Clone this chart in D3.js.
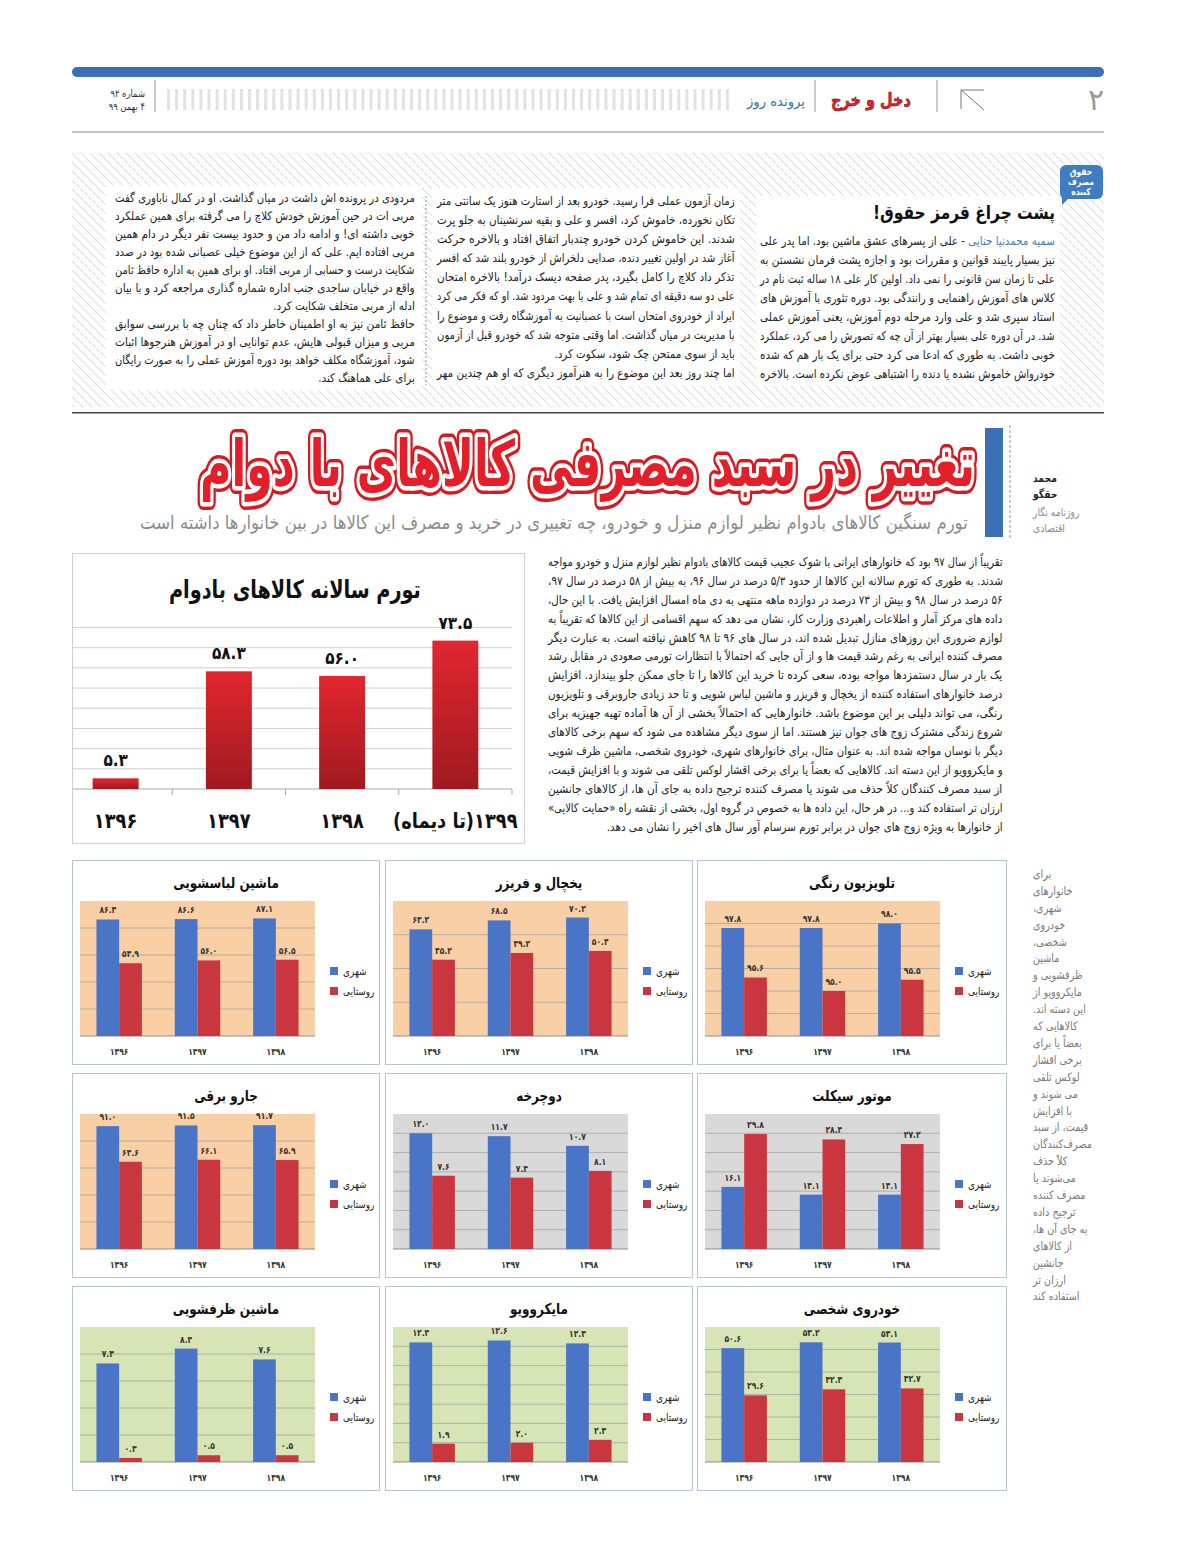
<!DOCTYPE html>
<html>
<head>
<meta charset="utf-8">
<script src="https://cdn.jsdelivr.net/npm/d3@7"></script>
<style>
  body { margin: 0; background: #fff; }
  svg { display: block; }
  text { font-family: "DejaVu Sans", sans-serif; }
</style>
</head>
<body>
<script>
// ---- data ----
var mainYears = ["۱۳۹۶", "۱۳۹۷", "۱۳۹۸", "۱۳۹۹(تا دیماه)"];
var mainValues = [5.3, 58.3, 56.0, 73.5];
var mainTicks = [0, 80, 10];

var panelYears = ["۱۳۹۶", "۱۳۹۷", "۱۳۹۸"];
var seriesNames = ["شهری", "روستایی"];

// order: right, middle, left in each row
var panelTitles = ["تلویزیون رنگی", "یخچال و فریزر", "ماشین لباسشویی",
                   "موتور سیکلت", "دوچرخه", "جارو برقی",
                   "خودروی شخصی", "مایکروویو", "ماشین ظرفشویی"];
var tvUrban = [97.8, 97.8, 98.0],       tvRural = [95.6, 95.0, 95.5];
var fridgeUrban = [63.2, 68.5, 70.2],   fridgeRural = [45.2, 49.2, 50.4];
var washUrban = [86.3, 86.6, 87.1],     washRural = [53.9, 56.0, 56.5];
var motoUrban = [16.1, 14.1, 14.1],     motoRural = [29.8, 28.4, 27.2];
var bikeUrban = [12.0, 11.7, 10.7],     bikeRural = [7.6, 7.4, 8.1];
var vacuumUrban = [91.0, 91.5, 91.7],   vacuumRural = [64.6, 66.1, 65.9];
var carUrban = [50.6, 53.2, 53.1],      carRural = [29.6, 32.3, 32.7];
var microUrban = [12.4, 12.6, 12.3],    microRural = [1.9, 2.0, 2.3];
var dishUrban = [7.3, 8.4, 7.6],        dishRural = [0.3, 0.5, 0.5];
// axis min, max, step
var panelAxes = [[93, 99, 1], [0, 80, 20], [0, 100, 20],
                 [0, 35, 5], [0, 14, 2], [0, 100, 20],
                 [0, 60, 10], [0, 14, 2], [0, 10, 2]];

var panels = [
  [tvUrban, tvRural], [fridgeUrban, fridgeRural], [washUrban, washRural],
  [motoUrban, motoRural], [bikeUrban, bikeRural], [vacuumUrban, vacuumRural],
  [carUrban, carRural], [microUrban, microRural], [dishUrban, dishRural]
];
var PEACH = "#f9cfa6", GREY = "#d9d9d9", GREEN = "#d7e4b5";
var panelBg = [PEACH, PEACH, PEACH, GREY, GREY, PEACH, GREEN, GREEN, GREEN];
var BLUE = "#4a74c6", RED = "#c9363f";

// ---- texts ----
var headline = "تغییر در سبد مصرفی کالاهای با دوام";
var subtitle = "تورم سنگین کالاهای بادوام نظیر لوازم منزل و خودرو، چه تغییری در خرید و مصرف این کالاها در بین خانوارها داشته است";
var mainTitle = "تورم سالانه کالاهای بادوام";

var rightCol = [
  [["سمیه محمدنیا حنایی", "#4a7bb7"], [" - علی از پسرهای عشق ماشین بود. اما پدر علی", "#222"]],
  "نیز بسیار پایبند قوانین و مقررات بود و اجازه پشت فرمان نشستن به",
  "علی تا زمان سن قانونی را نمی داد. اولین کار علی ۱۸ ساله ثبت نام در",
  "کلاس های آموزش راهنمایی و رانندگی بود. دوره تئوری با آموزش های",
  "استاد سپری شد و علی وارد مرحله دوم آموزش، یعنی آموزش عملی",
  "شد. در آن دوره علی بسیار بهتر از آن چه که تصورش را می کرد، عملکرد",
  "خوبی داشت. به طوری که ادعا می کرد حتی برای یک بار هم که شده",
  "خودرواش خاموش نشده یا دنده را اشتباهی عوض نکرده است. بالاخره"
];
var midCol = [
  "زمان آزمون عملی فرا رسید. خودرو بعد از استارت هنوز یک سانتی متر",
  "تکان نخورده، خاموش کرد، افسر و علی و بقیه سرنشینان به جلو پرت",
  "شدند. این خاموش کردن خودرو چندبار اتفاق افتاد و بالاخره حرکت",
  "آغاز شد در اولین تغییر دنده، صدایی دلخراش از خودرو بلند شد که افسر",
  "تذکر داد کلاچ را کامل بگیرد، پدر صفحه دیسک درآمد! بالاخره امتحان",
  "علی دو سه دقیقه ای تمام شد و علی با بهت مردود شد. او که فکر می کرد",
  "ایراد از خودروی امتحان است با عصبانیت به آموزشگاه رفت و موضوع را",
  "با مدیریت در میان گذاشت. اما وقتی متوجه شد که خودرو قبل از آزمون",
  "باید از سوی ممتحن چک شود، سکوت کرد.",
  "اما چند روز بعد این موضوع را به هنرآموز دیگری که او هم چندین مهر"
];
var leftCol = [
  "مردودی در پرونده اش داشت در میان گذاشت. او در کمال ناباوری گفت",
  "مربی ات در حین آموزش خودش کلاچ را می گرفته برای همین عملکرد",
  "خوبی داشته ای! و ادامه داد من و حدود بیست نفر دیگر در دام همین",
  "مربی افتاده ایم. علی که از این موضوع خیلی عصبانی شده بود در صدد",
  "شکایت درست و حسابی از مربی افتاد. او برای همین به اداره حافظ ثامن",
  "واقع در خیابان ساجدی جنب اداره شماره گذاری مراجعه کرد و با بیان",
  "ادله از مربی متخلف شکایت کرد.",
  "حافظ ثامن نیز به او اطمینان خاطر داد که چنان چه با بررسی سوابق",
  "مربی و میزان قبولی هایش، عدم توانایی او در آموزش هنرجوها اثبات",
  "شود، آموزشگاه مکلف خواهد بود دوره آموزش عملی را به صورت رایگان",
  "برای علی هماهنگ کند."
];
var mainText = [
  "تقریباً از سال ۹۷ بود که خانوارهای ایرانی با شوک عجیب قیمت کالاهای بادوام نظیر لوازم منزل و خودرو مواجه",
  "شدند. به طوری که تورم سالانه این کالاها از حدود ۵/۳ درصد در سال ۹۶، به بیش از ۵۸ درصد در سال ۹۷،",
  "۵۶ درصد در سال ۹۸ و بیش از ۷۳ درصد در دوازده ماهه منتهی به دی ماه امسال افزایش یافت. با این حال،",
  "داده های مرکز آمار و اطلاعات راهبردی وزارت کار، نشان می دهد که سهم اقسامی از این کالاها که تقریباً به",
  "لوازم ضروری این روزهای منازل تبدیل شده اند، در سال های ۹۶ تا ۹۸ کاهش نیافته است. به عبارت دیگر",
  "مصرف کننده ایرانی به رغم رشد قیمت ها و از آن جایی که احتمالاً با انتظارات تورمی صعودی در مقابل رشد",
  "یک بار در سال دستمزدها مواجه بوده، سعی کرده تا خرید این کالاها را تا جای ممکن جلو بیندازد. افزایش",
  "درصد خانوارهای استفاده کننده از یخچال و فریزر و ماشین لباس شویی و تا حد زیادی جاروبرقی و تلویزیون",
  "رنگی، می تواند دلیلی بر این موضوع باشد. خانوارهایی که احتمالاً بخشی از آن ها آماده تهیه جهیزیه برای",
  "شروع زندگی مشترک زوج های جوان نیز هستند. اما از سوی دیگر مشاهده می شود که سهم برخی کالاهای",
  "دیگر با نوسان مواجه شده اند. به عنوان مثال، برای خانوارهای شهری، خودروی شخصی، ماشین ظرف شویی",
  "و مایکروویو از این دسته اند. کالاهایی که بعضاً یا برای برخی اقشار لوکس تلقی می شوند و با افزایش قیمت،",
  "از سبد مصرف کنندگان کلاً حذف می شوند یا مصرف کننده ترجیح داده به جای آن ها، از کالاهای جانشین",
  "ارزان تر استفاده کند و... در هر حال، این داده ها به خصوص در گروه اول، بخشی از نقشه راه «حمایت کالایی»",
  "از خانوارها به ویژه زوج های جوان در برابر تورم سرسام آور سال های اخیر را نشان می دهد."
];
var sideText = ["برای", "خانوارهای", "شهری،", "خودروی", "شخصی،", "ماشین", "ظرفشویی و",
  "مایکروویو از", "این دسته اند.", "کالاهایی که", "بعضاً یا برای", "برخی اقشار", "لوکس تلقی",
  "می شوند و", "با افزایش", "قیمت، از سبد", "مصرف‌کنندگان", "کلاً حذف", "می‌شوند یا",
  "مصرف کننده", "ترجیح داده", "به جای آن ها،", "از کالاهای", "جانشین", "ارزان تر", "استفاده کند"];

// ---- helpers ----
var SQ = 0.84;
function rtl(s) { return "\u202B" + s + "\u202C"; }
function fa(s) { return String(s).replace(/[0-9]/g, function(d) { return "۰۱۲۳۴۵۶۷۸۹"[+d]; }); }

// place a text, squeezed horizontally to a width, anchored start/middle/end
function put(g, s, x, y, size, o) {
  o = o || {};
  var t = g.append("text")
    .attr("x", 0)
    .attr("y", y)
    .attr("font-size", size)
    .attr("font-weight", o.bold ? "bold" : "normal")
    .attr("fill", o.fill || "#222");
  if (Array.isArray(s)) {
    s.forEach(function(p, i) {
      t.append("tspan").attr("fill", p[1])
        .text((i === 0 ? "\u202B" : "") + p[0] + (i === s.length - 1 ? "\u202C" : ""));
    });
  } else {
    t.text(rtl(s));
  }
  var L = t.node().getComputedTextLength();
  var w = o.width || L * (o.k || SQ);
  var a = o.anchor || "end";
  var x0 = a === "end" ? x - w : a === "middle" ? x - w / 2 : x;
  t.attr("transform", "translate(" + x0 + ",0) scale(" + (w / L) + ",1)");
  t.property("nat", L);
  return t;
}

// justified paragraph lines, "ends" are the short last lines
function para(lines, xR, width, y0, lh, size, color, ends) {
  var g = svg.append("g");
  var rs = [];
  lines.forEach(function(s, i) {
    if (ends.indexOf(i) < 0) {
      var t = put(g, s, xR, y0 + i * lh, size, {width: width, fill: color});
      rs.push(width / t.property("nat"));
    }
  });
  var k = Math.max(0.7, Math.min(1.05, d3.mean(rs)));
  ends.forEach(function(i) {
    put(g, lines[i], xR, y0 + i * lh, size, {k: k, fill: color});
  });
}

var svg = d3.select("body").append("svg")
  .attr("width", 1200)
  .attr("height", 1560);

var defs = svg.append("defs");
var hatch = defs.append("pattern").attr("id", "hatch")
  .attr("patternUnits", "userSpaceOnUse").attr("width", 9).attr("height", 9);
hatch.append("path").attr("d", "M0,0L9,9M-1,8L1,10M8,-1L10,1")
  .attr("stroke", "#d6d6d6").attr("stroke-width", 1);
var grad = defs.append("linearGradient").attr("id", "barGrad")
  .attr("x1", 0).attr("y1", 0).attr("x2", 0).attr("y2", 1);
grad.append("stop").attr("offset", "0%").attr("stop-color", "#e2262f");
grad.append("stop").attr("offset", "100%").attr("stop-color", "#9f1a20");

// ---- page header ----
svg.append("rect").attr("x", 72).attr("y", 67).attr("width", 1032).attr("height", 10)
  .attr("rx", 5).attr("fill", "#3b6fb6");
put(svg, "۲", 1096, 110, 30, {fill: "#9a9a9a", anchor: "middle", k: 1});
svg.append("path").attr("d", "M961,109V90H984M961,90L984,110")
  .attr("fill", "none").attr("stroke", "#777").attr("stroke-width", 1);
[937, 815, 155].forEach(function(x) {
  svg.append("line").attr("x1", x).attr("x2", x).attr("y1", 80).attr("y2", 112)
    .attr("stroke", "#999");
});
put(svg, "دخل و خرج", 871, 106, 18, {bold: true, fill: "#e0242b", anchor: "middle", width: 80})
  .attr("stroke", "#8a0d12").attr("stroke-width", 0.6);
put(svg, "پرونده روز", 805, 106, 14, {fill: "#3a6fb0", width: 58});
svg.append("g").selectAll("rect")
  .data(d3.range(167, 728, 8.1))
  .enter().append("rect")
    .attr("x", function(d) { return d; })
    .attr("y", 89).attr("width", 3).attr("height", 21)
    .attr("fill", "#e2e2e2");
put(svg, "شماره ۹۲", 145, 97, 10, {fill: "#333"});
put(svg, "۴ بهمن ۹۹", 145, 110, 10, {fill: "#333"});
svg.append("rect").attr("x", 72).attr("y", 131).attr("width", 1032).attr("height", 2)
  .attr("fill", "#c4c4c4");

// ---- top article (hatched box) ----
svg.append("rect").attr("x", 72).attr("y", 153).attr("width", 1032).attr("height", 254)
  .attr("fill", "url(#hatch)");
[[756, 196, 304, 190], [432, 188, 308, 198], [106, 186, 316, 204]].forEach(function(r) {
  svg.append("rect").attr("x", r[0]).attr("y", r[1]).attr("width", r[2]).attr("height", r[3])
    .attr("fill", "#fff");
});
svg.append("line").attr("x1", 426).attr("x2", 426).attr("y1", 196).attr("y2", 385)
  .attr("stroke", "#7a9cc6").attr("stroke-dasharray", "2,2");
svg.append("path").attr("d", "M1062,196L1071,196L1062,205Z").attr("fill", "#3f7dc1");
svg.append("rect").attr("x", 1060).attr("y", 165).attr("width", 43).attr("height", 34)
  .attr("rx", 6).attr("fill", "#3f7dc1");
["حقوق", "مصرف", "کننده"].forEach(function(s, i) {
  put(svg, s, 1081, 175 + i * 10, 9.5, {bold: true, fill: "#fff", anchor: "middle", k: 0.8});
});
put(svg, "پشت چراغ قرمز حقوق!", 1055, 219, 19, {bold: true, fill: "#111", width: 182});
para(rightCol, 1055, 295, 245, 19, 12, "#222", []);
para(midCol, 735, 298, 205, 19.1, 12, "#222", [8]);
para(leftCol, 415, 300, 202, 18, 12, "#222", [6, 10]);
svg.append("rect").attr("x", 72).attr("y", 412).attr("width", 1032).attr("height", 1.5)
  .attr("fill", "#444");

// ---- headline block ----
svg.append("rect").attr("x", 985).attr("y", 428).attr("width", 18).attr("height", 109)
  .attr("fill", "#3b6fb6");
svg.append("line").attr("x1", 1010).attr("x2", 1010).attr("y1", 425).attr("y2", 540)
  .attr("stroke", "#7a9cc6").attr("stroke-dasharray", "3,2");
put(svg, "محمد", 1033, 482, 11, {bold: true, fill: "#222", anchor: "start"});
put(svg, "حقگو", 1033, 498, 11, {bold: true, fill: "#222", anchor: "start"});
put(svg, "روزنامه نگار", 1033, 516, 11, {fill: "#8a8a8a", anchor: "start"});
put(svg, "اقتصادی", 1033, 532, 11, {fill: "#8a8a8a", anchor: "start"});

var hl = svg.append("g");
[[16, "#d71920"], [9, "#fff"]].forEach(function(s) {
  put(hl, headline, 975, 486, 64, {bold: true, fill: "none", width: 775})
    .attr("stroke", s[1]).attr("stroke-width", s[0]).attr("stroke-linejoin", "round");
});
put(hl, headline, 975, 486, 64, {bold: true, fill: "#e3202a", width: 775});
put(svg, subtitle, 968, 529, 19, {fill: "#8c8c8c", width: 828});

// ---- main text + side text ----
para(mainText, 1003, 455, 566, 18.9, 12, "#222", [14]);
var sg = svg.append("g");
sideText.forEach(function(s, i) {
  put(sg, s, 1033, 878 + i * 16.9, 11.5, {fill: "#7a7a7a", anchor: "start"});
});

// ---- main bar chart ----
var mg = svg.append("g");
mg.append("rect").attr("x", 72.5).attr("y", 553.5).attr("width", 452).attr("height", 290)
  .attr("fill", "#fff").attr("stroke", "#c5d1dc");
put(mg, mainTitle, 295, 598, 25, {bold: true, fill: "#111", anchor: "middle", width: 252});

var x = d3.scaleBand().domain(mainYears).range([59, 512])
  .paddingInner(0.594).paddingOuter(0.297);
var y = d3.scaleLinear().domain([mainTicks[0], mainTicks[1]]).range([789, 627.5]);

mg.selectAll(".grid")
  .data(d3.range(mainTicks[0] + mainTicks[2], mainTicks[1] + 1, mainTicks[2]))
  .enter().append("line")
    .attr("x1", 73).attr("x2", 512)
    .attr("y1", function(d) { return y(d); })
    .attr("y2", function(d) { return y(d); })
    .attr("stroke", "#cfcfcf");
mg.append("line").attr("x1", 73).attr("x2", 512).attr("y1", y(0)).attr("y2", y(0))
  .attr("stroke", "#a8a8a8");
mg.selectAll(".tk")
  .data(d3.range(1, mainYears.length + 1))
  .enter().append("line")
    .attr("x1", function(i) { return x.range()[0] + i * x.step(); })
    .attr("x2", function(i) { return x.range()[0] + i * x.step(); })
    .attr("y1", y(0)).attr("y2", y(0) + 6)
    .attr("stroke", "#a8a8a8");

mg.selectAll(".bar")
  .data(mainValues)
  .enter().append("rect")
    .attr("x", function(d, i) { return x(mainYears[i]); })
    .attr("y", function(d) { return y(d); })
    .attr("width", x.bandwidth())
    .attr("height", function(d) { return y(0) - y(d); })
    .attr("fill", "url(#barGrad)");

mainValues.forEach(function(v, i) {
  var cx = x(mainYears[i]) + x.bandwidth() / 2;
  put(mg, fa(v.toFixed(1)), cx, y(v) - 12, 17, {bold: true, fill: "#111", anchor: "middle", k: 0.9});
  put(mg, mainYears[i], cx, 828, 21, {bold: true, fill: "#111", anchor: "middle", k: 0.85});
});

// ---- small panels ----
var colX = [697, 385, 72], colW = [310, 308, 308];
var rowY = [860, 1073, 1286];

panels.forEach(function(series, i) {
  var col = i % 3, row = Math.floor(i / 3);
  var ax = panelAxes[i];
  var g = svg.append("g").attr("transform", "translate(" + colX[col] + "," + rowY[row] + ")");
  g.append("rect").attr("x", 0.5).attr("y", 0.5).attr("width", colW[col] - 1).attr("height", 204)
    .attr("fill", "#fff").attr("stroke", "#b7c6d4");
  g.append("rect").attr("x", 8).attr("y", 41).attr("width", 235).attr("height", 135)
    .attr("fill", panelBg[i]);

  var ys = d3.scaleLinear().domain([ax[0], ax[1]]).range([176, 41]);
  var x0 = d3.scaleBand().domain(panelYears).range([8, 243])
    .paddingInner(0.42).paddingOuter(0.21);
  var x1 = d3.scaleBand().domain([0, 1]).range([0, x0.bandwidth()]);

  g.selectAll(".grid")
    .data(d3.range(ax[0] + ax[2], ax[1] - ax[2] / 2, ax[2]))
    .enter().append("line")
      .attr("x1", 8).attr("x2", 243)
      .attr("y1", function(d) { return ys(d); })
      .attr("y2", function(d) { return ys(d); })
      .attr("stroke", "#9c9c9c").attr("stroke-opacity", 0.7);
  g.append("line").attr("x1", 8).attr("x2", 243).attr("y1", 176).attr("y2", 176)
    .attr("stroke", "#8f8f8f");

  series.forEach(function(vals, s) {
    g.selectAll(".b" + s)
      .data(vals)
      .enter().append("rect")
        .attr("x", function(d, j) { return x0(panelYears[j]) + x1(s); })
        .attr("y", function(d) { return ys(d); })
        .attr("width", x1.bandwidth())
        .attr("height", function(d) { return 176 - ys(d); })
        .attr("fill", s === 0 ? BLUE : RED);
    vals.forEach(function(v, j) {
      put(g, fa(v.toFixed(1)), x0(panelYears[j]) + x1(s) + x1.bandwidth() / 2, ys(v) - 6, 9.5,
        {bold: true, fill: "#333", anchor: "middle", k: 0.8});
    });
  });

  panelYears.forEach(function(yr) {
    put(g, yr, x0(yr) + x0.bandwidth() / 2, 195, 9.5, {bold: true, fill: "#333", anchor: "middle", k: 0.8});
  });
  put(g, panelTitles[i], colW[col] / 2, 28, 15, {bold: true, fill: "#111", anchor: "middle", k: 0.8});

  seriesNames.forEach(function(n, s) {
    g.append("rect").attr("x", 258).attr("y", 107 + s * 20).attr("width", 8).attr("height", 8)
      .attr("fill", s === 0 ? BLUE : RED);
    put(g, n, 271, 115 + s * 20, 10.5, {fill: "#222", anchor: "start", k: 0.85});
  });
});
</script>
</body>
</html>
